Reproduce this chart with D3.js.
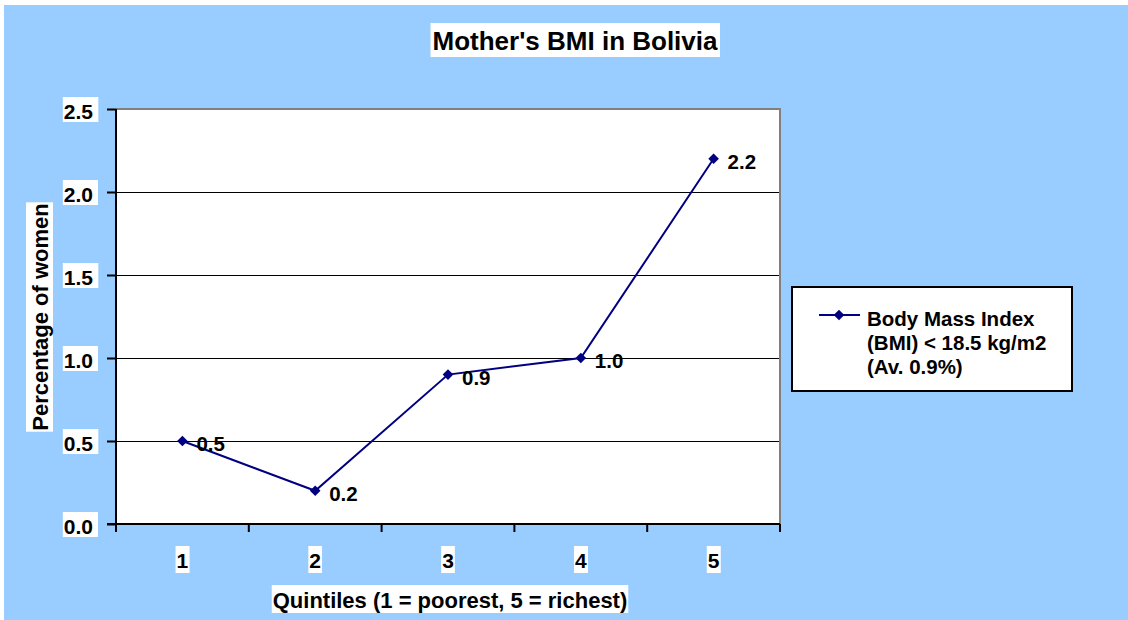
<!DOCTYPE html>
<meta charset="utf-8">
<html>
  <head>
    <title>Mother's BMI in Bolivia</title>
    <script src="https://d3js.org/d3.v7.min.js"></script>
    <style>
      body {
        margin: 0;
        background: #fff;
        font-family: Arial, "Liberation Sans", sans-serif;
      }
      text {
        font-weight: bold;
        fill: #000;
      }
    </style>
  </head>
  <body>
    <svg id="chart" width="1128" height="620"></svg>

    <script>
      // Data
      const quintiles = ["1", "2", "3", "4", "5"];
      const bmiValues = [0.5, 0.2, 0.9, 1.0, 2.2];
      const yTicks = [0, 0.5, 1.0, 1.5, 2.0, 2.5];
      const legendLines = ["Body Mass Index", "(BMI) < 18.5 kg/m2", "(Av. 0.9%)"];

      const width = 1128;
      const height = 620;
      const plot = { left: 116, right: 780, top: 109, bottom: 524 };

      const svg = d3.select("#chart");

      // light blue chart area
      svg.append("rect")
         .attr("x", 4).attr("y", 5)
         .attr("width", width - 4).attr("height", height - 5)
         .attr("fill", "#99ccff");

      // text on a white box; box is measured from the baseline
      function boxedText(parent, x, y, str, size, o) {
        const g = parent.append("g");
        const bg = g.append("rect").attr("fill", "#fff");
        const t = g.append("text")
                   .attr("x", x).attr("y", y)
                   .attr("text-anchor", o.anchor || "middle")
                   .style("font-size", size + "px")
                   .text(str);
        if (o.rotate) g.attr("transform", `rotate(-90, ${x}, ${y})`);
        const b = t.node().getBBox();
        bg.attr("x", b.x - o.left).attr("y", y - o.above)
          .attr("width", b.width + o.left + o.right)
          .attr("height", o.above + o.below);
        return g;
      }

      const x = d3.scaleBand()
                  .domain(quintiles)
                  .range([plot.left, plot.right]);

      const y = d3.scaleLinear()
                  .domain([0, 2.5])
                  .range([plot.bottom, plot.top]);

      // plot area
      svg.append("rect")
         .attr("x", plot.left).attr("y", plot.top)
         .attr("width", plot.right - plot.left)
         .attr("height", plot.bottom - plot.top)
         .attr("fill", "#fff");

      // gridlines
      svg.append("g")
         .selectAll("line")
         .data(yTicks.filter(d => d > 0 && d < 2.5))
         .enter()
         .append("line")
           .attr("x1", plot.left).attr("x2", plot.right)
           .attr("y1", d => Math.round(y(d)) + 0.5).attr("y2", d => Math.round(y(d)) + 0.5)
           .attr("stroke", "#000").attr("stroke-width", 1);

      // gray border top / right
      svg.append("path")
         .attr("d", `M${plot.left},${plot.top}H${plot.right}V${plot.bottom}`)
         .attr("fill", "none")
         .attr("stroke", "#808080")
         .attr("stroke-width", 2);

      // y axis
      const yAxis = svg.append("g")
         .attr("transform", `translate(${plot.left},0)`)
         .call(d3.axisLeft(y).tickValues(yTicks).tickSize(9).tickFormat(""));
      yAxis.select(".domain").attr("stroke", "#000").attr("stroke-width", 2)
           .attr("d", `M0,${plot.top}V${plot.bottom + 8}`);
      yAxis.selectAll(".tick line").attr("stroke", "#000").attr("stroke-width", 2);

      // x axis
      const xAxis = svg.append("g")
         .attr("transform", `translate(0,${plot.bottom})`)
         .call(d3.axisBottom(x).tickSize(0).tickFormat(""));
      xAxis.select(".domain").attr("stroke", "#000").attr("stroke-width", 2)
           .attr("d", `M${plot.left - 9},0H${plot.right}`);
      xAxis.selectAll(".tick").remove();
      const bounds = quintiles.map(q => x(q)).concat([plot.right]);
      xAxis.selectAll("line.bnd")
           .data(bounds)
           .enter()
           .append("line")
             .attr("class", "bnd")
             .attr("x1", d => d).attr("x2", d => d)
             .attr("y1", 0).attr("y2", 8)
             .attr("stroke", "#000").attr("stroke-width", 2);

      // y tick labels
      yTicks.forEach(t => {
        boxedText(svg, 93, y(t) + 10, t.toFixed(1), 21,
                  { anchor: "end", left: 1, right: 5, above: 22, below: 3 });
      });

      // x tick labels
      quintiles.forEach(q => {
        boxedText(svg, x(q) + x.bandwidth() / 2, 568, q, 21,
                  { left: 1, right: 1, above: 22, below: 5 });
      });

      // titles
      boxedText(svg, 575, 50, "Mother's BMI in Bolivia", 26,
                { left: 2, right: 2, above: 27, below: 7 });
      boxedText(svg, 450, 608, "Quintiles (1 = poorest, 5 = richest)", 22,
                { left: 1, right: 1, above: 23, below: 5 });
      boxedText(svg, 48, 317, "Percentage of women", 22,
                { rotate: true, left: 1, right: 1, above: 22, below: 5 });

      // series
      const data = quintiles.map((q, i) => ({ q: q, v: bmiValues[i] }));
      const cx = d => x(d.q) + x.bandwidth() / 2;

      svg.append("path")
         .datum(data)
         .attr("fill", "none")
         .attr("stroke", "#000080")
         .attr("stroke-width", 2)
         .attr("d", d3.line().x(cx).y(d => y(d.v)));

      const diamond = d3.symbol().type(d3.symbolDiamond2).size(72);
      svg.selectAll("path.marker")
         .data(data)
         .enter()
         .append("path")
           .attr("class", "marker")
           .attr("d", diamond)
           .attr("transform", d => `translate(${cx(d)},${y(d.v)})`)
           .attr("fill", "#000080");

      svg.selectAll("text.lbl")
         .data(data)
         .enter()
         .append("text")
           .attr("class", "lbl")
           .attr("x", d => cx(d) + 14)
           .attr("y", d => y(d.v) + 10)
           .style("font-size", "20.5px")
           .text(d => d.v.toFixed(1));

      // legend
      const lg = svg.append("g");
      lg.append("rect")
        .attr("x", 792).attr("y", 287)
        .attr("width", 280).attr("height", 104)
        .attr("fill", "#fff")
        .attr("stroke", "#000")
        .attr("stroke-width", 2);
      lg.append("line")
        .attr("x1", 819).attr("x2", 860)
        .attr("y1", 315).attr("y2", 315)
        .attr("stroke", "#000080").attr("stroke-width", 2);
      lg.append("path")
        .attr("d", diamond)
        .attr("transform", "translate(839,315)")
        .attr("fill", "#000080");
      lg.selectAll("text")
        .data(legendLines)
        .enter()
        .append("text")
          .attr("x", 867)
          .attr("y", (d, i) => 326 + i * 24)
          .style("font-size", "20.5px")
          .text(d => d);
    </script>
  </body>
</html>
